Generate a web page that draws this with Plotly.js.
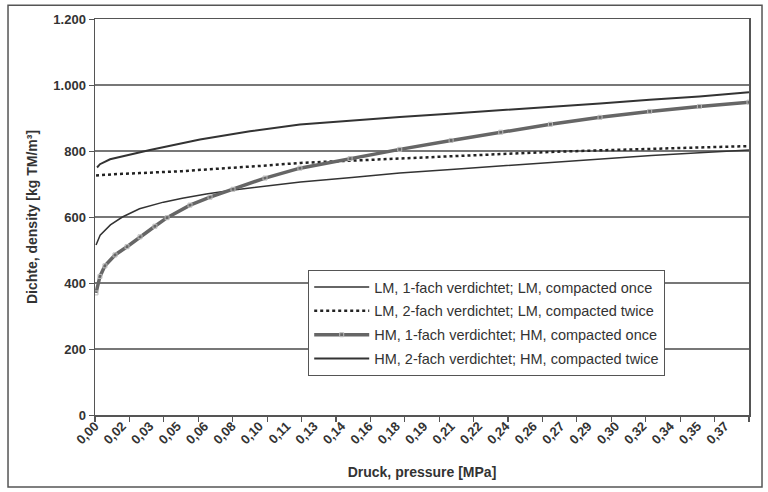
<!DOCTYPE html>
<html>
<head>
<meta charset="utf-8">
<script src="https://cdn.plot.ly/plotly-3.0.1.min.js"></script>
<style>
html,body{margin:0;padding:0;background:#fff;}
#chart{width:768px;height:492px;}
</style>
</head>
<body>
<div id="chart"></div>
<script>
// X tick labels (pressure, MPa)
const tickValues = [0, 0.016, 0.032, 0.048, 0.064, 0.080, 0.096, 0.112, 0.128, 0.144, 0.160, 0.176, 0.192, 0.208, 0.224, 0.240, 0.256, 0.272, 0.288, 0.304, 0.320, 0.336, 0.352, 0.368];
const tickLabels = ['0,00','0,02','0,03','0,05','0,06','0,08','0,10','0,11','0,13','0,14','0,16','0,18','0,19','0,21','0,22','0,24','0,26','0,27','0,29','0,30','0,32','0,34','0,35','0,37'];

// LM, 1-fach verdichtet
const pressureLM1 = [0.0006, 0.003, 0.009, 0.016, 0.026, 0.040, 0.051, 0.065, 0.081, 0.100, 0.120, 0.150, 0.178, 0.210, 0.237, 0.265, 0.295, 0.325, 0.353, 0.382];
const densityLM1  = [515, 545, 576, 600, 625, 645, 657, 670, 682, 694, 706, 720, 733, 745, 755, 766, 776, 786, 795, 803];

// LM, 2-fach verdichtet
const pressureLM2 = [0.0006, 0.003, 0.009, 0.016, 0.026, 0.040, 0.051, 0.065, 0.081, 0.100, 0.120, 0.150, 0.178, 0.210, 0.237, 0.265, 0.295, 0.325, 0.353, 0.382];
const densityLM2  = [726, 727, 729, 731, 733, 736, 739, 744, 749, 756, 764, 771, 778, 785, 791, 797, 802, 806, 811, 815];

// HM, 1-fach verdichtet
const pressureHM1 = [0.0006, 0.0029, 0.0058, 0.0117, 0.0187, 0.0263, 0.035, 0.0421, 0.0555, 0.0672, 0.0806, 0.0993, 0.1197, 0.149, 0.178, 0.208, 0.237, 0.266, 0.295, 0.324, 0.353, 0.382];
const densityHM1  = [370, 420, 452, 485, 510, 540, 572, 598, 636, 660, 684, 718, 748, 777, 805, 832, 857, 881, 902, 920, 935, 948];

// HM, 2-fach verdichtet
const pressureHM2 = [0.0012, 0.0029, 0.0088, 0.0204, 0.0321, 0.0613, 0.0905, 0.1197, 0.149, 0.178, 0.207, 0.237, 0.266, 0.295, 0.324, 0.353, 0.382];
const densityHM2  = [750, 760, 775, 790, 803, 835, 860, 880, 892, 903, 913, 923, 934, 944, 955, 965, 978];

const seriesNames = [
  'LM, 1-fach verdichtet; LM, compacted once',
  'LM, 2-fach verdichtet; LM, compacted twice',
  'HM, 1-fach verdichtet; HM, compacted once',
  'HM, 2-fach verdichtet; HM, compacted twice'
];

const FONT = 'Liberation Sans, Arial, sans-serif';
const X_RANGE = [0, 0.382];

const traces = [
  {x: pressureLM1, y: densityLM1, name: seriesNames[0], legendgroup: 'a', mode: 'lines',
   line: {color: '#333', width: 1.5}},
  {x: pressureLM2, y: densityLM2, name: seriesNames[1], legendgroup: 'b', mode: 'lines',
   line: {color: '#222', width: 2.5, dash: 'dot'}},
  {x: pressureHM1, y: densityHM1, name: seriesNames[2], legendgroup: 'c', mode: 'lines+markers',
   line: {color: '#666', width: 3.5},
   marker: {symbol: 'square-open', size: 4, color: '#bbb', line: {width: 1}}},
  {x: pressureHM2, y: densityHM2, name: seriesNames[3], legendgroup: 'd', mode: 'lines',
   xaxis: 'x2', line: {color: '#333', width: 2}}
];

const layout = {
  width: 768, height: 492,
  margin: {l: 95, r: 19, t: 19, b: 77},
  paper_bgcolor: '#fff', plot_bgcolor: '#fff',
  separators: ',.',
  font: {family: FONT, color: '#333'},
  showlegend: true,
  legend: {
    x: 0.326, y: 0.366, xanchor: 'left', yanchor: 'top',
    bgcolor: '#fff', bordercolor: '#555', borderwidth: 1,
    font: {family: FONT, size: 14.5, color: '#333'},
    tracegroupgap: 2, itemwidth: 55
  },
  // tick marks + axis line + title
  xaxis: {
    range: X_RANGE, tickmode: 'linear', tick0: 0, dtick: 0.382 / 19,
    ticks: 'outside', ticklen: 5, tickcolor: '#555', tickwidth: 1.2,
    showticklabels: false, showgrid: false, zeroline: false,
    showline: true, linecolor: '#555', linewidth: 1.5, mirror: true,
    title: {text: 'Druck, pressure [MPa]', font: {family: FONT, size: 14, weight: 'bold', color: '#333'}, standoff: 46}
  },
  // tick labels
  xaxis2: {
    overlaying: 'x', side: 'bottom', range: X_RANGE,
    tickmode: 'array', tickvals: tickValues, ticktext: tickLabels,
    tickangle: -45, ticks: '', ticklen: 5, showgrid: false, zeroline: false, showline: false,
    tickfont: {family: FONT, size: 13, weight: 'bold', color: '#333'}
  },
  yaxis: {
    range: [0, 1200], dtick: 200, tickformat: ',d',
    ticks: 'outside', ticklen: 5, tickcolor: '#555',
    showgrid: true, gridcolor: '#777', gridwidth: 1.5, zeroline: false,
    showline: true, linecolor: '#555', linewidth: 1.5, mirror: true,
    tickfont: {family: FONT, size: 13, weight: 'bold', color: '#333'},
    title: {text: 'Dichte, density [kg TM/m³]', font: {family: FONT, size: 14, weight: 'bold', color: '#333'}, standoff: 12}
  },
  shapes: [
    {type: 'rect', xref: 'paper', yref: 'paper', x0: -0.133, x1: 1.0199, y0: -0.182, y1: 1.035,
     line: {color: '#555', width: 1.5}, fillcolor: 'rgba(0,0,0,0)', layer: 'below'}
  ]
};

Plotly.newPlot('chart', traces, layout, {displayModeBar: false, staticPlot: true});
</script>
</body>
</html>
